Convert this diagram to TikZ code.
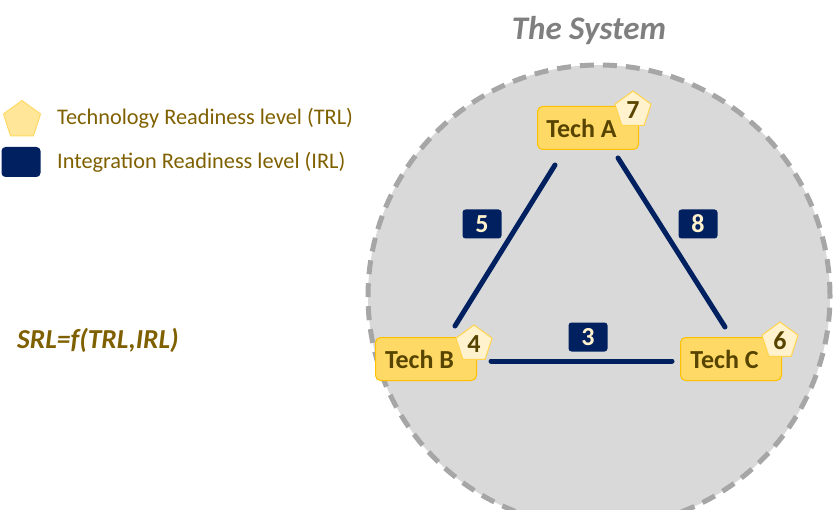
\documentclass[tikz,border=0pt]{standalone}
\usepackage{fontspec}
\setmainfont{Carlito}
\usetikzlibrary{shapes.geometric,calc}
\definecolor{sysgray}{HTML}{D9D9D9}
\definecolor{sysborder}{HTML}{A6A6A6}
\definecolor{navy}{HTML}{002060}
\definecolor{techfill}{HTML}{FFD966}
\definecolor{techline}{HTML}{FFC000}
\definecolor{pentfill}{HTML}{FFF2CC}
\definecolor{legpent}{HTML}{FFE699}
\definecolor{brown}{HTML}{7F6000}
\definecolor{darkbrown}{HTML}{574400}
\definecolor{titlegray}{HTML}{7F7F7F}
\tikzset{
  techbox/.style={draw=techline, line width=1pt, fill=techfill, rounded corners=5pt,
    minimum width=101pt, minimum height=43pt, inner sep=0pt,
    font=\fontsize{26}{28}\selectfont\bfseries, text=darkbrown},
  trlpent/.style={regular polygon, regular polygon sides=5, draw=techline!70, line width=1pt,
    fill=pentfill, minimum size=38pt, inner sep=0pt,
    font=\fontsize{26}{28}\selectfont\bfseries, text=darkbrown},
  irlbox/.style={fill=navy, rounded corners=3pt, minimum width=39pt, minimum height=29pt,
    inner sep=0pt, font=\fontsize{26}{28}\selectfont\bfseries, text=pentfill},
  link/.style={draw=navy, line width=5pt, line cap=round},
  legtext/.style={anchor=west, text=brown, font=\fontsize{22.3}{25}\selectfont, inner sep=0pt}
}
\begin{document}
\begin{tikzpicture}[x=1pt,y=-1pt]
\useasboundingbox (0,0) rectangle (834,510);
\begin{scope}
\clip (0,0) rectangle (834,510);
\node[circle, draw=sysborder, fill=sysgray, line width=5pt, dash pattern=on 14pt off 9pt,
  minimum size=462pt, inner sep=0pt] (sys) at (599,296) {};
\end{scope}
\node[text=titlegray, font=\fontsize{33}{36}\selectfont\bfseries\itshape] (title) at (589,31) {The System};

% legend
\node[regular polygon, regular polygon sides=5, draw=techfill, line width=1pt, fill=legpent,
  minimum size=39pt, inner sep=0pt] (legP) at (22,120) {};
\node[legtext] (legPt) at (57,118) {Technology Readiness level (TRL)};
\node[fill=navy, rounded corners=4pt, minimum width=39pt, minimum height=30pt, inner sep=0pt] (legB) at (21,162) {};
\node[legtext] (legBt) at (57,162) {Integration Readiness level (IRL)};

\node[anchor=west, text=brown, font=\fontsize{27.4}{30}\selectfont\bfseries\itshape, inner sep=0pt] (srl) at (17,340) {SRL=f(TRL,IRL)};

% techs
\node[techbox] (A) at (588,128) {\raisebox{-2pt}{\hspace*{-13pt}Tech A}};
\node[techbox] (B) at (426,359) {\raisebox{-2pt}{\hspace*{-13pt}Tech B}};
\node[techbox] (C) at (731,359) {\raisebox{-2pt}{\hspace*{-13pt}Tech C}};
\node[trlpent] (pA) at (633,110) {7};
\node[trlpent] (pB) at (474,344) {4};
\node[trlpent] (pC) at (780,341) {6};

% links
\coordinate (a1) at ($(A.south)+(-33,15)$);
\coordinate (b1) at ($(B.north)+(29,-11)$);
\coordinate (a2) at ($(A.south)+(30,8)$);
\coordinate (c2) at ($(C.north)+(-6,-10)$);
\coordinate (b3) at ($(B.east)+(14,2)$);
\coordinate (c3) at ($(C.west)+(-8,2)$);
\draw[link] (a1) -- (b1);
\draw[link] (a2) -- (c2);
\draw[link] (b3) -- (c3);

\node[irlbox] (l5) at (482,224) {5};
\node[irlbox] (l8) at (698,224) {8};
\node[irlbox] (l3) at (588,337) {3};
\end{tikzpicture}
\end{document}
